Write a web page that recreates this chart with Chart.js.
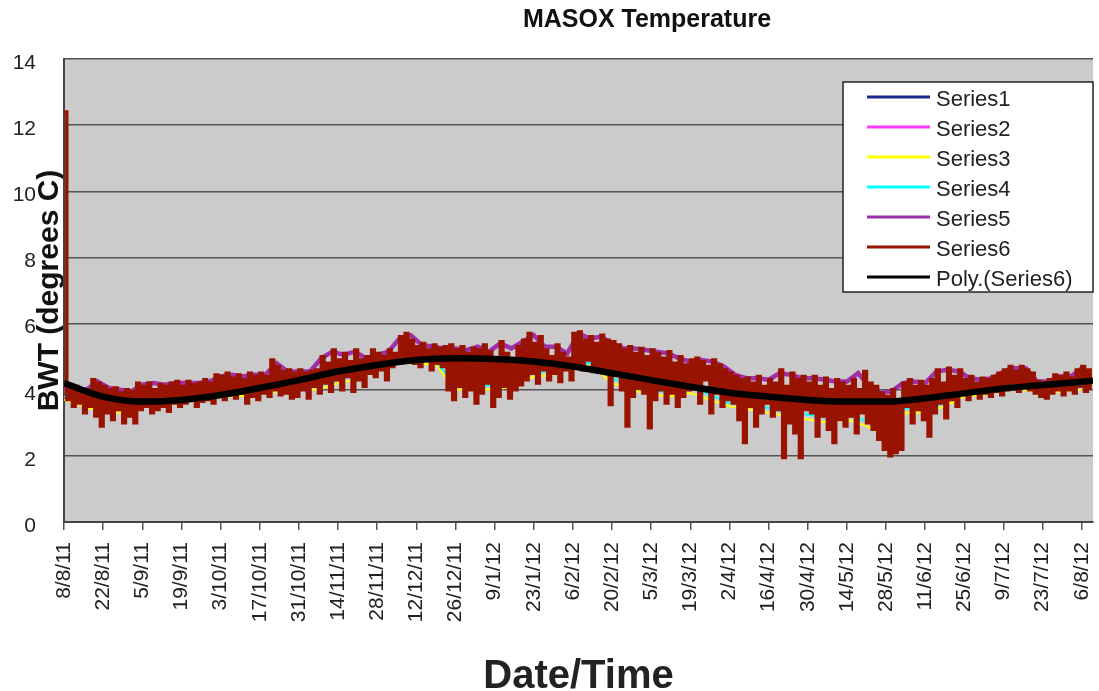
<!DOCTYPE html>
<html>
<head>
<meta charset="utf-8">
<title>MASOX Temperature</title>
<script src="https://cdn.jsdelivr.net/npm/chart.js@4.4.1/dist/chart.umd.min.js"></script>
<style>
	html, body { margin: 0; padding: 0; background: #fff; }
	#wrap { width: 1099px; height: 691px; position: relative; }
</style>
</head>
<body>
<div id="wrap"><canvas id="masoxChart"></canvas></div>
<script>
// x axis: one label every 14 days from 8/8/11
var tickLabels = ["8/8/11", "22/8/11", "5/9/11", "19/9/11", "3/10/11", "17/10/11", "31/10/11", "14/11/11", "28/11/11",
	"12/12/11", "26/12/11", "9/1/12", "23/1/12", "6/2/12", "20/2/12", "5/3/12", "19/3/12", "2/4/12", "16/4/12",
	"30/4/12", "14/5/12", "28/5/12", "11/6/12", "25/6/12", "9/7/12", "23/7/12", "6/8/12"];
var tickStep = 14;
var lastDay = 368;

// Series6 - one reading per day (one row per 14 days)
var series6 = [
	12.4, 3.7, 4.0, 3.5, 4.1, 3.6, 3.9, 3.3, 4.0, 3.5, 4.3, 3.2, 4.2, 2.9,
	4.1, 3.3, 4.0, 3.1, 4.05, 3.4, 3.9, 3.0, 4.0, 3.2, 3.95, 3.0, 4.2, 3.4,
	4.1, 3.5, 4.2, 3.3, 4.0, 3.4, 4.15, 3.5, 4.1, 3.35, 4.2, 3.6, 4.25, 3.5,
	4.1, 3.6, 4.25, 3.7, 4.15, 3.5, 4.2, 3.65, 4.3, 3.7, 4.2, 3.6, 4.45, 3.8,
	4.4, 3.7, 4.5, 3.85, 4.35, 3.75, 4.45, 3.9, 4.3, 3.6, 4.5, 3.8, 4.4, 3.7,
	4.5, 3.9, 4.4, 3.8, 4.9, 4.0, 4.7, 3.85, 4.55, 3.9, 4.6, 3.75, 4.5, 3.8,
	4.6, 4.0, 4.5, 3.75, 4.55, 4.1, 4.6, 3.9, 5.0, 4.2, 4.8, 3.95, 5.2, 4.3,
	4.9, 4.0, 5.1, 4.4, 4.85, 3.95, 5.2, 4.3, 4.9, 4.1, 5.0, 4.5, 5.2, 4.4,
	5.1, 4.6, 5.0, 4.3, 5.2, 4.7, 5.1, 4.8, 5.6, 5.0, 5.7, 4.9, 5.5, 4.8,
	5.3, 4.7, 5.4, 4.9, 5.2, 4.6, 5.35, 4.8, 5.25, 4.7, 5.3, 4.0, 5.35, 3.7,
	5.2, 4.1, 5.3, 3.8, 5.1, 4.0, 5.25, 3.6, 5.2, 3.9, 5.35, 4.2, 5.15, 3.5,
	4.9, 3.8, 5.45, 4.1, 5.1, 3.75, 4.9, 4.0, 5.3, 4.15, 5.5, 4.3, 5.7, 4.5,
	5.4, 4.2, 5.6, 4.6, 5.2, 4.3, 5.0, 4.5, 5.35, 4.25, 5.1, 4.6, 4.95, 4.3,
	5.7, 4.8, 5.75, 4.6, 5.5, 4.9, 5.6, 4.55, 5.4, 4.7, 5.65, 4.6, 5.5, 3.55,
	5.45, 4.5, 5.35, 4.0, 5.2, 2.9, 5.3, 3.8, 5.1, 4.05, 5.25, 3.9, 5.0, 2.85,
	5.2, 3.7, 5.1, 4.0, 4.95, 3.6, 5.15, 3.9, 4.8, 3.5, 5.0, 3.8, 4.75, 4.0,
	4.9, 4.1, 4.95, 3.6, 4.85, 4.3, 4.7, 3.3, 4.9, 3.9, 4.75, 3.5, 4.6, 3.7,
	4.5, 3.6, 4.4, 3.1, 4.3, 2.4, 4.35, 3.5, 4.2, 2.9, 4.4, 3.3, 4.1, 3.6,
	4.3, 3.2, 4.2, 3.4, 4.6, 1.95, 4.1, 3.0, 4.5, 2.7, 4.3, 1.95, 4.4, 3.4,
	4.2, 3.3, 4.4, 2.6, 4.1, 3.2, 4.35, 2.8, 4.0, 2.4, 4.3, 3.1, 4.2, 2.9,
	4.1, 3.2, 4.3, 2.7, 4.0, 3.3, 4.55, 3.0, 4.2, 2.8, 4.1, 2.5, 3.9, 2.2,
	3.8, 2.0, 4.0, 2.1, 3.7, 2.2, 4.2, 3.5, 4.3, 3.0, 4.1, 3.4, 4.25, 3.1,
	4.1, 2.6, 4.3, 3.3, 4.6, 3.6, 4.2, 3.15, 4.65, 3.7, 4.4, 3.5, 4.6, 3.9,
	4.3, 3.7, 4.4, 3.9, 4.2, 3.75, 4.35, 3.9, 4.3, 3.8, 4.4, 3.95, 4.5, 3.85,
	4.6, 4.0, 4.7, 4.2, 4.55, 3.95, 4.7, 4.1, 4.6, 4.0, 4.5, 3.9, 4.25, 3.8,
	4.2, 3.75, 4.3, 3.9, 4.45, 4.0, 4.4, 3.85, 4.5, 4.0, 4.35, 3.9, 4.6, 4.1,
	4.7, 3.95, 4.6, 4.0
];

// Series5 - every 4 days, shows as the purple rim on top of the band
var series5 = [
	4.0, 4.05, 4.0, 4.25, 4.05, 4.0, 3.95,
	4.15, 4.2, 4.15, 4.2, 4.2, 4.2, 4.25,
	4.4, 4.45, 4.4, 4.45, 4.45, 4.8, 4.55,
	4.55, 4.55, 4.95, 5.15, 5.05, 5.15, 4.95,
	5.05, 5.15, 5.55, 5.65, 5.35, 5.3, 5.25,
	5.25, 5.2, 5.3, 5.15, 5.4, 5.25, 5.45,
	5.65, 5.3, 5.3, 5.1, 5.7, 5.55, 5.6,
	5.4, 5.25, 5.25, 5.2, 5.15, 5.1, 4.95,
	4.85, 4.9, 4.85, 4.7, 4.45, 4.35, 4.35,
	4.3, 4.5, 4.45, 4.35, 4.35, 4.3, 4.25,
	4.25, 4.5, 4.1, 3.9, 3.95, 4.2, 4.25,
	4.2, 4.55, 4.6, 4.55, 4.35, 4.3, 4.35,
	4.55, 4.65, 4.65, 4.25, 4.25, 4.4, 4.4,
	4.65
];

// Series3 and Series4 - weekly, along the low side of the band
var series3 = [
	3.7, 3.5, 3.3, 3.3, 3.5, 3.5, 3.65,
	3.65, 3.8, 3.8, 3.9, 3.95, 4.0, 4.0,
	4.2, 4.3, 4.6, 4.9, 4.8, 4.75, 4.0,
	4.0, 4.0, 4.1, 4.4, 4.45, 4.75, 4.7,
	4.2, 4.0, 3.85, 3.8, 3.9, 3.7, 3.5,
	3.4, 3.3, 3.2, 3.1, 3.0, 3.1, 2.9,
	2.6, 3.3, 3.3, 3.5, 3.8, 3.85, 4.05,
	4.0, 3.9, 3.95, 4.0
];
var series4 = [
	3.8, 3.6, 3.45, 3.4, 3.6, 3.65, 3.75,
	3.8, 3.9, 3.95, 4.0, 4.1, 4.1, 4.15,
	4.3, 4.45, 4.7, 5.0, 4.95, 4.85, 4.15,
	4.1, 4.15, 4.25, 4.5, 4.6, 4.85, 4.8,
	4.35, 4.1, 4.0, 3.9, 4.05, 3.85, 3.6,
	3.55, 3.45, 3.3, 3.25, 3.15, 3.25, 3.05,
	2.8, 3.45, 3.4, 3.6, 3.9, 3.95, 4.15,
	4.1, 4.0, 4.05, 4.1
];

// Series1 and Series2 - every 14 days, hidden under the trend line
var series1 = [4.15, 3.8, 3.6, 3.7, 3.85, 4.0, 4.3, 4.5, 4.75, 4.9, 4.9, 4.95, 4.8, 4.7,
	4.5, 4.3, 4.05, 3.9, 3.8, 3.7, 3.6, 3.65, 3.75, 3.9, 4.0, 4.15, 4.25];
var series2 = [4.2, 3.75, 3.65, 3.65, 3.8, 4.05, 4.25, 4.55, 4.7, 4.85, 4.95, 4.9, 4.85, 4.65,
	4.45, 4.3, 4.1, 3.95, 3.75, 3.65, 3.65, 3.6, 3.7, 3.85, 4.05, 4.1, 4.2];

// Poly.(Series6) - trend read at every tick, last value at the right edge
var trend = [4.2, 3.79, 3.64, 3.69, 3.84, 4.05, 4.29, 4.55, 4.75, 4.9, 4.95, 4.93, 4.85, 4.7,
	4.5, 4.29, 4.09, 3.91, 3.79, 3.69, 3.64, 3.64, 3.74, 3.89, 4.04, 4.14, 4.24, 4.28];

var fontFamily = "'Liberation Sans', Arial, sans-serif";
Chart.defaults.font.family = fontFamily;

function toPoints(values, step) {
	return values.map(function(v, i) {
		return { x: Math.min(i * step, lastDay), y: v };
	});
}

function lineSet(label, values, step, color, width, order) {
	return {
		label: label,
		data: toPoints(values, step),
		borderColor: color,
		backgroundColor: color,
		borderWidth: width,
		pointRadius: 0,
		tension: 0,
		order: order
	};
}

var series6Set = lineSet("Series6", series6, 1, "#981400", 3.4, 1);
series6Set.stepped = true;

var trendSet = lineSet("Poly.(Series6)", trend, tickStep, "#000000", 6.5, 0);
trendSet.cubicInterpolationMode = "monotone";

// gray plot background + white page
var plotBackground = {
	id: "plotBackground",
	beforeDraw: function(chart) {
		var ctx = chart.ctx, a = chart.chartArea;
		ctx.save();
		ctx.fillStyle = "#ffffff";
		ctx.fillRect(0, 0, chart.width, chart.height);
		ctx.fillStyle = "#cbcbcb";
		ctx.fillRect(a.left, a.top, a.right - a.left, a.bottom - a.top);
		ctx.restore();
	}
};

// Excel style title (sits right of centre) and boxed legend inside the plot
var excelDecor = {
	id: "excelDecor",
	afterDraw: function(chart) {
		var ctx = chart.ctx;
		ctx.save();
		ctx.fillStyle = "#111";
		ctx.font = "bold 25px " + fontFamily;
		ctx.textAlign = "center";
		ctx.textBaseline = "middle";
		ctx.fillText("MASOX Temperature", 647, 20);

		ctx.fillStyle = "#ffffff";
		ctx.fillRect(843, 82, 250, 210);
		ctx.strokeStyle = "#222";
		ctx.lineWidth = 1.5;
		ctx.strokeRect(843, 82, 250, 210);

		ctx.font = "22px " + fontFamily;
		ctx.textAlign = "left";
		chart.data.datasets.forEach(function(ds, i) {
			var y = 97 + i * 30;
			ctx.strokeStyle = ds.borderColor;
			ctx.lineWidth = 3;
			ctx.beginPath();
			ctx.moveTo(867, y);
			ctx.lineTo(930, y);
			ctx.stroke();
			ctx.fillStyle = "#222";
			ctx.fillText(ds.label, 936, y + 3);
		});
		ctx.restore();
	}
};

var ctx = document.getElementById("masoxChart");
var masoxChart = new Chart(ctx, {
	type: "line",
	data: {
		datasets: [
			lineSet("Series1", series1, 14, "#1c2a8f", 2, 6),
			lineSet("Series2", series2, 14, "#ff3cff", 2, 5),
			lineSet("Series3", series3, 7, "#ffff00", 2, 4),
			lineSet("Series4", series4, 7, "#00ffff", 2, 3),
			lineSet("Series5", series5, 4, "#a030a8", 4.5, 2),
			series6Set,
			trendSet
		]
	},
	options: {
		responsive: true,
		maintainAspectRatio: false,
		animation: false,
		layout: {
			padding: { top: 59, left: 0, right: 6, bottom: 0 }
		},
		plugins: {
			legend: { display: false },
			tooltip: { enabled: false },
			title: { display: false }
		},
		scales: {
			x: {
				type: "linear",
				min: 0,
				max: lastDay,
				afterBuildTicks: function(scale) {
					scale.ticks = tickLabels.map(function(t, i) {
						return { value: i * tickStep };
					});
				},
				afterFit: function(scale) {
					scale.height = 169;
					scale.paddingLeft = 0;
					scale.paddingRight = 0;
				},
				ticks: {
					autoSkip: false,
					minRotation: 90,
					maxRotation: 90,
					padding: 12,
					color: "#222",
					font: { size: 21 },
					callback: function(value) {
						return tickLabels[Math.round(value / tickStep)];
					}
				},
				grid: { drawOnChartArea: false, tickLength: 8, color: "#555", lineWidth: 1.5 },
				border: { color: "#444", width: 2 },
				title: {
					display: true,
					text: "Date/Time",
					color: "#222",
					font: { size: 40, weight: "bold", lineHeight: 0.7 },
					padding: 0
				}
			},
			y: {
				min: 0,
				max: 14,
				afterFit: function(scale) {
					scale.width = 64;
				},
				ticks: { stepSize: 2, padding: 28, labelOffset: 4, color: "#222", font: { size: 21 } },
				grid: { color: "#555", lineWidth: 1.5, drawTicks: false },
				border: { color: "#444", width: 2 },
				title: {
					display: true,
					text: "BWT (degrees C)",
					color: "#111",
					font: { size: 30, weight: "bold" },
					padding: { top: 32, bottom: 0 }
				}
			}
		}
	},
	plugins: [plotBackground, excelDecor]
});
</script>
</body>
</html>
